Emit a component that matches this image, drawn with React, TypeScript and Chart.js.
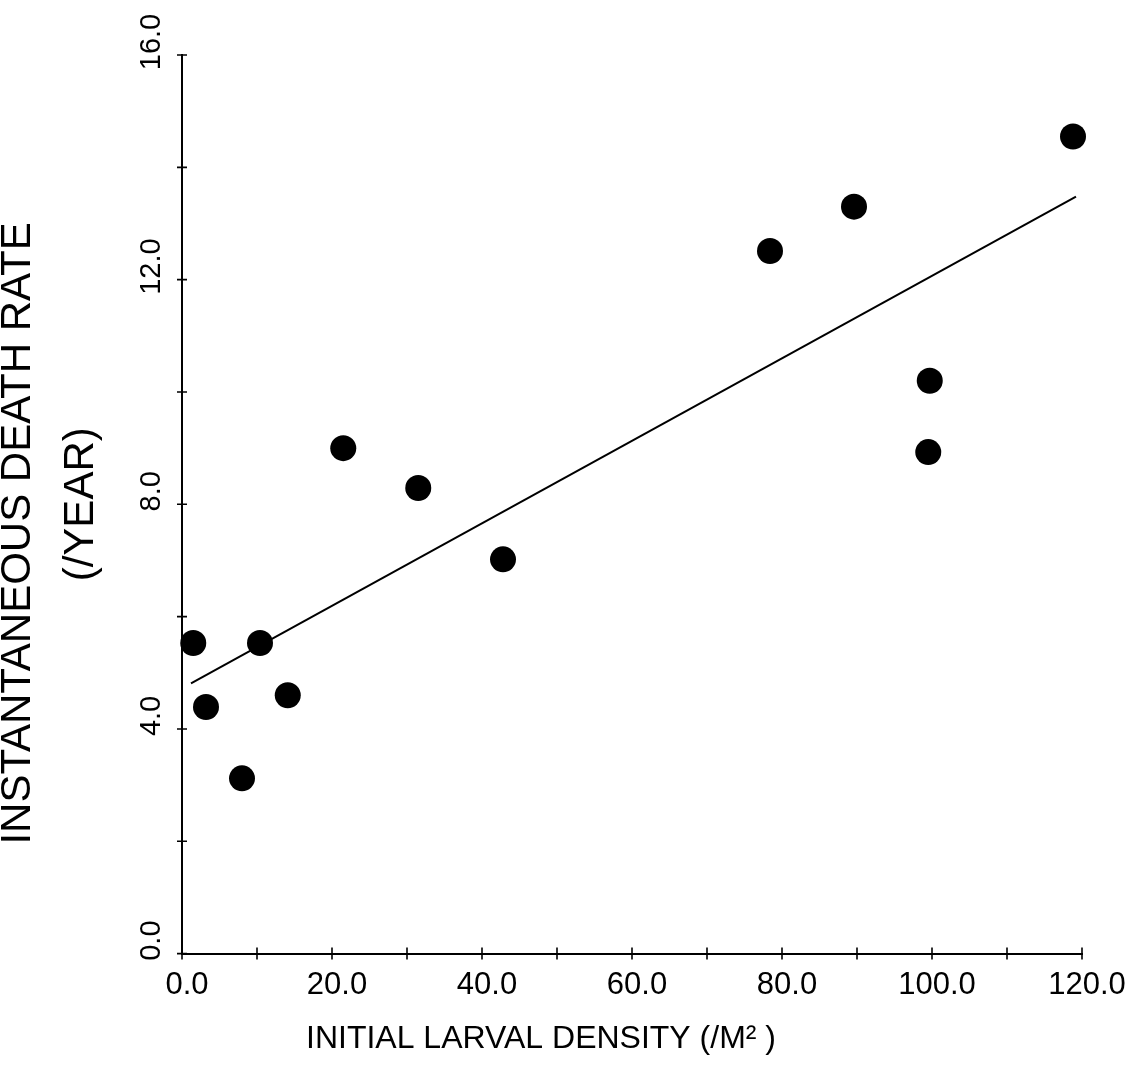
import React, { useEffect, useRef } from "react";
import { Chart, registerables } from "chart.js";

Chart.register(...registerables);

// Observed data points
const densityValues = [1.5, 10.4, 3.2, 14.1, 8.0, 21.5, 31.5, 42.8, 78.4, 89.6, 99.7, 99.5, 118.8];
const deathRateValues = [5.53, 5.53, 4.39, 4.6, 3.12, 9.0, 8.29, 7.02, 12.51, 13.3, 10.2, 8.93, 14.55];

// Fitted regression line end points
const fitDensity = [1.2, 119.2];
const fitDeathRate = [4.81, 13.48];

// Axis ticks
const xTickValues = [0, 10, 20, 30, 40, 50, 60, 70, 80, 90, 100, 110, 120];
const xTickLabels = ["0.0", "", "20.0", "", "40.0", "", "60.0", "", "80.0", "", "100.0", "", "120.0"];
const yTickValues = [0, 2, 4, 6, 8, 10, 12, 14, 16];
const yTickLabels = ["0.0", "", "4.0", "", "8.0", "", "12.0", "", "16.0"];

const xTitle = "INITIAL LARVAL DENSITY (/M\u00B2 )";
const yTitleLines = ["INSTANTANEOUS DEATH RATE", "(/YEAR)"];

const FONT = "'Liberation Sans', Arial, Helvetica, sans-serif";

const crossTicks = {
  id: "crossTicks",
  afterDraw(chart: any) {
    const ctx = chart.ctx;
    const xs = chart.scales.x;
    const ys = chart.scales.y;
    const area = chart.chartArea;
    ctx.save();
    ctx.strokeStyle = "#000";
    ctx.lineWidth = 1.6;
    ctx.beginPath();
    xs.ticks.forEach((t: any) => {
      const px = xs.getPixelForValue(t.value);
      ctx.moveTo(px, area.bottom - 6);
      ctx.lineTo(px, area.bottom + 6);
    });
    ys.ticks.forEach((t: any) => {
      const py = ys.getPixelForValue(t.value);
      ctx.moveTo(area.left - 5, py);
      ctx.lineTo(area.left + 5, py);
    });
    ctx.stroke();
    ctx.restore();
  },
};

export default function App() {
  const canvasRef = useRef<HTMLCanvasElement | null>(null);

  useEffect(() => {
    if (!canvasRef.current) return;
    const chart = new Chart(canvasRef.current, {
      type: "scatter",
      data: {
        datasets: [
          {
            type: "scatter",
            data: densityValues.map((x, i) => ({ x, y: deathRateValues[i] })),
            pointRadius: 13,
            pointHoverRadius: 13,
            backgroundColor: "#000",
            borderColor: "#000",
            borderWidth: 0,
            clip: false,
          } as any,
          {
            type: "line",
            data: fitDensity.map((x, i) => ({ x, y: fitDeathRate[i] })),
            showLine: true,
            borderColor: "#000",
            borderWidth: 2,
            pointRadius: 0,
            fill: false,
            tension: 0,
          } as any,
        ],
      },
      options: {
        animation: false,
        responsive: false,
        events: [],
        layout: { padding: { top: 55, right: 63, bottom: 7, left: 0 } },
        plugins: {
          legend: { display: false },
          tooltip: { enabled: false },
          title: {
            display: true,
            position: "bottom",
            text: xTitle,
            color: "#000",
            font: { family: FONT, size: 32, weight: "normal", lineHeight: 1.2 },
            padding: { top: 0, bottom: 0 },
          },
        },
        scales: {
          x: {
            type: "linear",
            min: 0,
            max: 120,
            afterBuildTicks: (scale: any) => {
              scale.ticks = xTickValues.map((v) => ({ value: v }));
            },
            afterFit: (scale: any) => {
              scale.height = 66;
            },
            grid: { display: true, drawOnChartArea: false, drawTicks: false },
            border: { display: true, color: "#000", width: 2 },
            ticks: {
              autoSkip: false,
              maxRotation: 0,
              minRotation: 0,
              padding: 13,
              labelOffset: 5,
              color: "#000",
              font: { family: FONT, size: 31 },
              callback: (_v: any, i: number) => xTickLabels[i],
            },
          },
          y: {
            type: "linear",
            min: 0,
            max: 16,
            afterBuildTicks: (scale: any) => {
              scale.ticks = yTickValues.map((v) => ({ value: v }));
            },
            afterFit: (scale: any) => {
              scale.width = 182;
            },
            grid: { display: true, drawOnChartArea: false, drawTicks: false },
            border: { display: true, color: "#000", width: 2 },
            title: {
              display: true,
              text: [yTitleLines[0] + "     ", yTitleLines[1]],
              color: "#000",
              font: { family: FONT, size: 42, weight: "normal", lineHeight: 1.5 },
              padding: { top: -13, bottom: 0 },
            },
            ticks: {
              autoSkip: false,
              minRotation: 90,
              maxRotation: 90,
              crossAlign: "center",
              padding: 2,
              labelOffset: -13,
              color: "#000",
              font: { family: FONT, size: 29 },
              callback: (_v: any, i: number) => yTickLabels[i],
            },
          },
        },
      } as any,
      plugins: [crossTicks],
    });
    return () => chart.destroy();
  }, []);

  return (
    <div style={{ position: "absolute", left: 0, top: 0, width: 1145, height: 1065, background: "#fff" }}>
      <canvas ref={canvasRef} width={1145} height={1065} style={{ display: "block" }} />
    </div>
  );
}
